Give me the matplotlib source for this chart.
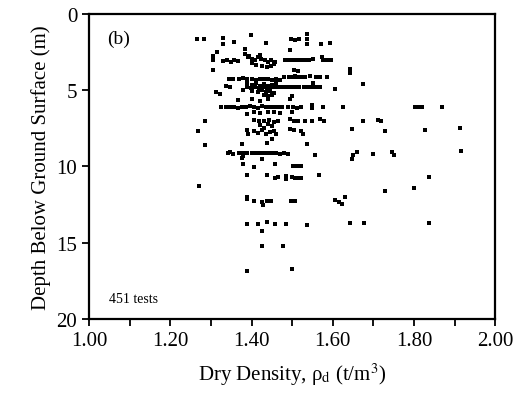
import matplotlib
matplotlib.use("Agg")
import matplotlib.pyplot as plt

plt.rcParams['font.family'] = ['Liberation Serif', 'DejaVu Serif']
plt.rcParams['mathtext.fontset'] = 'stix'

points = [
    # shallow
    (1.266,1.65),(1.283,1.65),(1.330,1.60),(1.330,1.95),(1.357,1.85),(1.398,1.38),(1.436,1.88),
    (1.497,1.65),(1.508,1.70),(1.518,1.62),(1.536,1.30),(1.536,1.62),(1.536,1.95),(1.572,1.97),
    (1.593,1.88),(1.495,2.35),(1.385,2.30),
    # 2.3-3.8
    (1.314,2.50),(1.306,2.75),(1.305,3.05),(1.305,3.65),(1.330,3.10),(1.340,3.00),(1.350,3.15),
    (1.358,3.05),(1.366,3.10),(1.383,2.60),(1.392,2.80),(1.400,2.95),(1.408,3.05),(1.416,2.85),
    (1.424,2.95),(1.433,3.05),(1.441,3.15),(1.449,3.05),(1.457,3.15),(1.400,3.25),(1.412,3.35),
    (1.425,3.40),(1.438,3.50),(1.448,3.40),(1.455,3.30),(1.395,2.75),(1.420,2.70),
    (1.482,3.05),(1.492,3.05),(1.502,3.05),(1.512,3.05),(1.522,3.02),(1.532,3.02),(1.542,3.02),
    (1.552,2.98),(1.575,3.05),(1.585,3.02),(1.595,3.05),(1.573,2.85),(1.505,3.70),(1.515,3.75),
    (1.643,3.60),(1.643,3.90),
    # 3.8-5.4
    (1.507,4.05),(1.480,4.15),(1.492,4.15),(1.502,4.15),(1.512,4.15),(1.522,4.15),(1.532,4.15),
    (1.545,4.10),(1.558,4.15),(1.568,4.15),(1.585,4.15),
    (1.345,4.25),(1.355,4.30),(1.368,4.25),(1.380,4.20),(1.390,4.30),(1.400,4.25),(1.410,4.35),
    (1.420,4.25),(1.430,4.30),(1.440,4.25),(1.450,4.35),(1.460,4.30),(1.470,4.35),
    (1.338,4.70),(1.348,4.80),(1.313,5.15),(1.322,5.25),(1.378,5.00),
    (1.390,4.55),(1.400,4.65),(1.410,4.55),(1.420,4.70),(1.430,4.60),(1.440,4.75),(1.450,4.65),
    (1.460,4.55),
    (1.388,4.80),(1.398,4.85),(1.408,4.80),(1.418,4.85),(1.428,4.80),(1.438,4.85),(1.448,4.80),
    (1.458,4.80),(1.468,4.80),(1.478,4.80),(1.488,4.80),(1.498,4.80),(1.508,4.80),(1.518,4.80),
    (1.528,4.80),(1.538,4.80),(1.548,4.80),(1.558,4.80),(1.568,4.80),
    (1.552,4.55),(1.606,4.95),(1.675,4.60),
    (1.400,5.05),(1.415,5.10),(1.425,5.00),(1.435,5.15),(1.445,5.05),(1.455,5.20),(1.430,5.30),
    (1.440,5.40),(1.450,5.35),(1.500,5.40),
    # 5.5-6.6
    (1.366,5.65),(1.400,5.55),(1.420,5.70),(1.440,5.60),(1.495,5.58),
    (1.326,6.10),(1.336,6.10),(1.346,6.12),(1.356,6.10),(1.366,6.15),(1.376,6.10),(1.386,6.12),
    (1.396,6.05),(1.406,6.10),(1.416,6.15),(1.426,6.05),(1.436,6.10),(1.446,6.12),(1.456,6.08),
    (1.466,6.10),(1.476,6.12),(1.490,6.10),(1.503,6.12),(1.513,6.15),(1.523,6.10),
    (1.548,6.00),(1.548,6.15),(1.577,6.12),(1.626,6.12),(1.803,6.12),(1.812,6.12),(1.820,6.12),
    (1.868,6.12),
    (1.388,6.55),(1.405,6.40),(1.420,6.50),(1.440,6.45),(1.455,6.40),(1.470,6.50),(1.500,6.40),
    # 6.6-8.5
    (1.285,7.05),(1.268,7.70),
    (1.405,6.95),(1.418,7.00),(1.430,7.05),(1.442,6.95),(1.455,7.10),(1.465,7.00),
    (1.495,6.90),(1.505,7.00),(1.515,7.00),(1.532,7.00),(1.548,7.00),(1.568,6.90),(1.578,7.00),
    (1.675,7.00),(1.712,6.93),(1.720,7.00),(1.647,7.55),(1.729,7.65),(1.827,7.60),(1.914,7.50),
    (1.390,7.60),(1.392,7.88),(1.405,7.70),(1.415,7.80),(1.425,7.60),(1.435,7.90),(1.445,7.75),
    (1.455,7.65),(1.460,7.90),(1.430,7.45),(1.450,7.35),(1.420,7.30),(1.440,7.20),
    (1.495,7.55),(1.505,7.60),(1.523,7.65),(1.527,7.88),
    (1.536,8.50),(1.450,8.20),(1.437,8.45),
    # 8.5-9.5
    (1.285,8.57),(1.376,8.52),
    (1.347,9.05),(1.342,9.15),(1.355,9.18),(1.380,9.30),(1.376,9.45),
    (1.370,9.15),(1.380,9.12),(1.390,9.15),(1.400,9.12),(1.410,9.15),(1.420,9.12),(1.430,9.15),
    (1.440,9.10),(1.450,9.10),(1.460,9.15),(1.470,9.20),(1.480,9.15),(1.490,9.20),
    (1.556,9.25),(1.647,9.50),(1.651,9.25),(1.659,9.07),(1.700,9.18),(1.745,9.07),(1.750,9.25),
    (1.915,8.96),
    # 9.5-11.3
    (1.378,9.84),(1.406,10.05),(1.425,9.50),(1.458,9.84),(1.503,9.95),(1.513,10.00),(1.523,9.95),
    (1.388,10.56),(1.437,10.56),(1.458,10.78),(1.466,10.72),(1.486,10.60),(1.486,10.82),
    (1.499,10.70),(1.507,10.75),(1.515,10.75),(1.523,10.75),(1.567,10.56),(1.837,10.70),
    (1.270,11.26),
    # 11.4-12.6
    (1.729,11.63),(1.799,11.43),(1.388,12.00),(1.388,12.15),(1.406,12.24),(1.427,12.35),
    (1.429,12.52),(1.437,12.24),(1.447,12.24),(1.496,12.24),(1.507,12.24),(1.606,12.17),
    (1.616,12.35),(1.622,12.46),(1.630,12.02),
    # deep
    (1.388,13.77),(1.417,13.77),(1.437,13.66),(1.458,13.77),(1.486,13.77),(1.537,13.84),
    (1.427,14.21),(1.643,13.70),(1.678,13.70),(1.837,13.70),(1.427,15.23),(1.478,15.23),
    (1.390,16.83),(1.499,16.72),
]
density = [p[0] for p in points]
depth = [p[1] for p in points]

x_ticks = [1.00, 1.20, 1.40, 1.60, 1.80, 2.00]
y_ticks = [0, 5, 10, 15, 20]

fig = plt.figure(figsize=(5.24, 4.02), dpi=100)
ax = fig.add_axes([0.170, 0.204, 0.775, 0.759])
ax.scatter(density, depth, marker='s', s=9, color='black', linewidths=0)

ax.set_xlim(1.0, 2.0)
ax.set_ylim(20, 0)
ax.set_xticks(x_ticks)
ax.set_xticklabels([f"{t:.2f}" for t in x_ticks])
ax.set_xticks([1.1, 1.3, 1.5, 1.7, 1.9], minor=True)
ax.set_yticks(y_ticks)
ax.tick_params(axis='both', which='both', direction='out', labelsize=15, width=1.3)
ax.tick_params(axis='both', which='major', length=5)
ax.tick_params(axis='x', which='minor', length=5)
for s in ax.spines.values():
    s.set_linewidth(1.6)

ax.set_xlabel('Dry Density, ρ$_{\\rm d}$ (t/m$^3$)', fontsize=15, labelpad=8)
ax.set_ylabel('Depth Below Ground Surface (m)', fontsize=15, labelpad=4)
ax.text(0.045, 0.905, '(b)', transform=ax.transAxes, fontsize=14)
ax.text(0.05, 0.055, '451 tests', transform=ax.transAxes, fontsize=10)

fig.savefig('out.png', dpi=100)
